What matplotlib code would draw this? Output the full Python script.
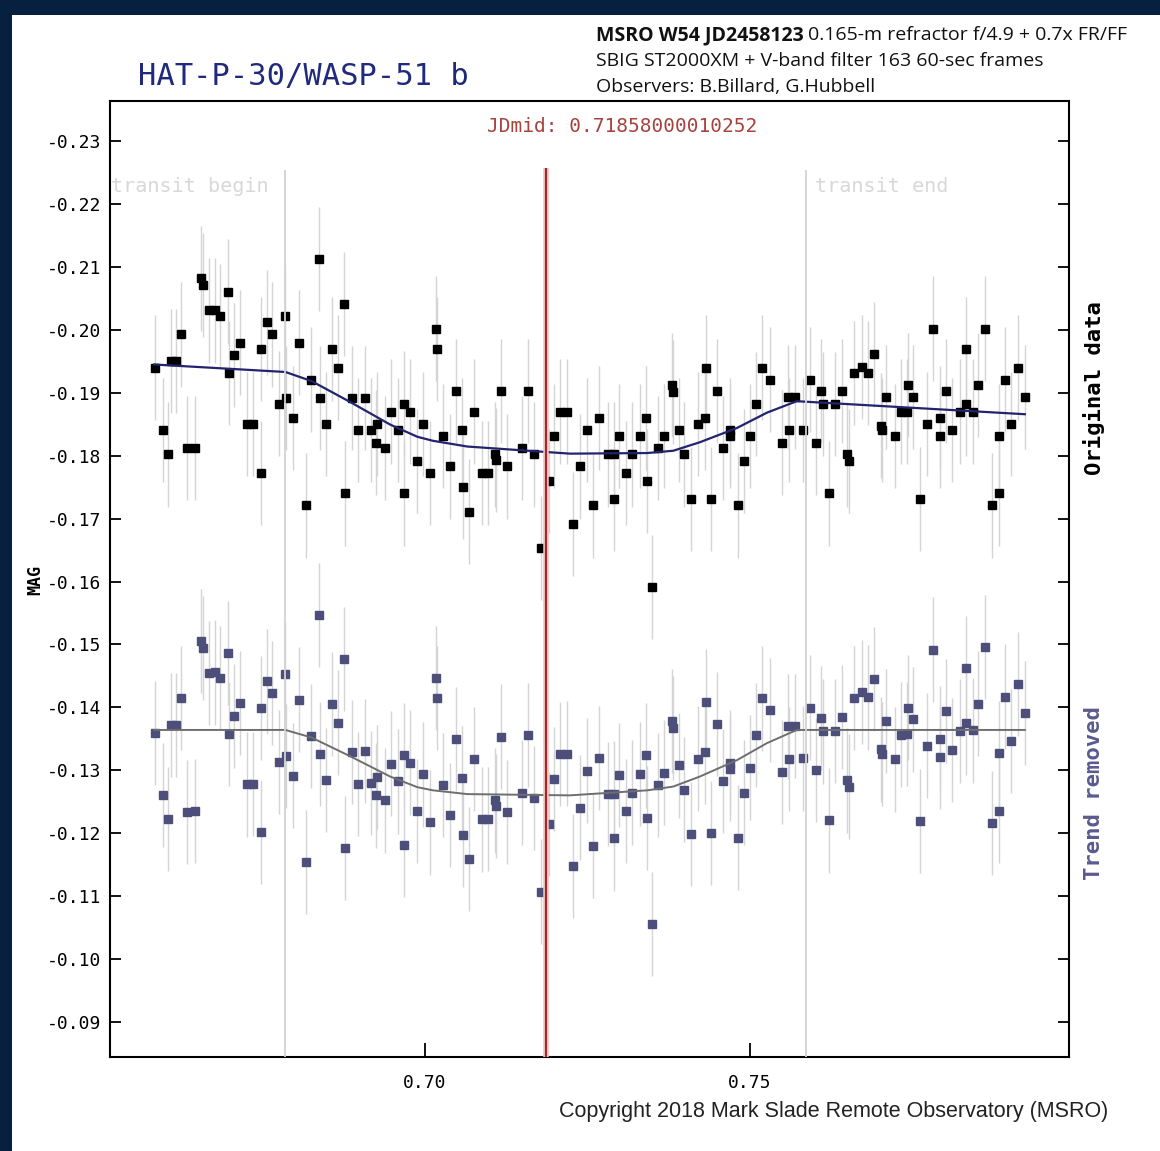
import numpy as np
import matplotlib.pyplot as plt
from matplotlib.patches import Rectangle

# ----- data -----
jd = [0.6584, 0.6596, 0.6605, 0.6609, 0.6617, 0.6624, 0.6634, 0.6646, 0.6655, 0.6658,
      0.6667, 0.6677, 0.6685, 0.6696, 0.6698, 0.6706, 0.6715, 0.6726, 0.6735, 0.6747,
      0.6748, 0.6756, 0.6765, 0.6775, 0.6785, 0.6786, 0.6796, 0.6806, 0.6816, 0.6825,
      0.6837, 0.6838, 0.6847, 0.6856, 0.6866, 0.6875, 0.6876, 0.6888, 0.6897, 0.6907,
      0.6916, 0.6924, 0.6926, 0.6938, 0.6948, 0.6958, 0.6967, 0.6968, 0.6976, 0.6988,
      0.6997, 0.7007, 0.7017, 0.7018, 0.7027, 0.7038, 0.7048, 0.7057, 0.7058, 0.7067,
      0.7076, 0.7087, 0.7097, 0.7108, 0.7109, 0.7117, 0.7126, 0.7149, 0.7158, 0.7167,
      0.7178, 0.7190, 0.7198, 0.7208, 0.7218, 0.7228, 0.7238, 0.7249, 0.7258, 0.7267,
      0.7281, 0.7290, 0.7291, 0.7299, 0.7309, 0.7318, 0.7330, 0.7340, 0.7341, 0.7349,
      0.7359, 0.7368, 0.7380, 0.7381, 0.7390, 0.7399, 0.7409, 0.7420, 0.7431, 0.7432,
      0.7440, 0.7450, 0.7459, 0.7469, 0.7470, 0.7481, 0.7491, 0.7500, 0.7510, 0.7519,
      0.7531, 0.7550, 0.7559, 0.7560, 0.7570, 0.7581, 0.7592, 0.7601, 0.7610, 0.7613,
      0.7622, 0.7631, 0.7641, 0.7650, 0.7652, 0.7660, 0.7672, 0.7682, 0.7691, 0.7702,
      0.7703, 0.7710, 0.7723, 0.7732, 0.7742, 0.7743, 0.7751, 0.7761, 0.7773, 0.7782,
      0.7792, 0.7793, 0.7801, 0.7811, 0.7823, 0.7832, 0.7833, 0.7843, 0.7851, 0.7861,
      0.7873, 0.7883, 0.7884, 0.7892, 0.7902, 0.7912, 0.7923]

mag_orig = [-0.1940, -0.1841, -0.1802, -0.1951, -0.1951, -0.1993, -0.1812, -0.1812, -0.2082, -0.2071,
            -0.2031, -0.2031, -0.2022, -0.2061, -0.1932, -0.1960, -0.1980, -0.1850, -0.1850, -0.1970,
            -0.1773, -0.2012, -0.1993, -0.1883, -0.2022, -0.1892, -0.1860, -0.1980, -0.1721, -0.1921,
            -0.2113, -0.1892, -0.1850, -0.1970, -0.1940, -0.2041, -0.1740, -0.1892, -0.1841, -0.1892,
            -0.1841, -0.1821, -0.1850, -0.1812, -0.1870, -0.1841, -0.1883, -0.1740, -0.1870, -0.1792,
            -0.1850, -0.1773, -0.2002, -0.1970, -0.1831, -0.1783, -0.1903, -0.1841, -0.1750, -0.1711,
            -0.1870, -0.1773, -0.1773, -0.1802, -0.1793, -0.1903, -0.1783, -0.1812, -0.1903, -0.1802,
            -0.1653, -0.1760, -0.1831, -0.1870, -0.1870, -0.1691, -0.1783, -0.1841, -0.1721, -0.1860,
            -0.1802, -0.1802, -0.1731, -0.1831, -0.1773, -0.1802, -0.1831, -0.1860, -0.1760, -0.1591,
            -0.1812, -0.1831, -0.1912, -0.1901, -0.1841, -0.1802, -0.1731, -0.1850, -0.1860, -0.1940,
            -0.1731, -0.1903, -0.1812, -0.1841, -0.1831, -0.1721, -0.1792, -0.1831, -0.1882, -0.1940,
            -0.1921, -0.1821, -0.1893, -0.1841, -0.1893, -0.1841, -0.1921, -0.1821, -0.1903, -0.1882,
            -0.1740, -0.1882, -0.1903, -0.1802, -0.1792, -0.1932, -0.1941, -0.1932, -0.1961, -0.1848,
            -0.1841, -0.1893, -0.1831, -0.1870, -0.1870, -0.1912, -0.1893, -0.1731, -0.1850, -0.2002,
            -0.1860, -0.1831, -0.1903, -0.1841, -0.1870, -0.1970, -0.1882, -0.1870, -0.1912, -0.2002,
            -0.1721, -0.1740, -0.1831, -0.1921, -0.1850, -0.1940, -0.1893]

mag_err = 0.0083

# linear trend that separates the two curves (offset at trend_jd0 and slope)
trend_jd0 = 0.6584
trend_a = 0.0581
trend_b = -0.059

# fitted transit model in the trend-removed frame
model_jd = [0.6583, 0.6785, 0.6825, 0.6885, 0.6946, 0.6988, 0.7012, 0.7065, 0.7223,
            0.7342, 0.7382, 0.7423, 0.7480, 0.7526, 0.7572, 0.7586, 0.7923]
model_detr = [-0.1364, -0.1364, -0.1352, -0.1322, -0.1290, -0.1273, -0.1268, -0.1262, -0.1260,
              -0.1268, -0.1274, -0.1290, -0.1316, -0.1343, -0.1364, -0.1364, -0.1364]

jd_mid = 0.71858000010252
transit_begin = 0.6785
transit_end = 0.7586

yticks = [-0.23, -0.22, -0.21, -0.20, -0.19, -0.18, -0.17, -0.16,
          -0.15, -0.14, -0.13, -0.12, -0.11, -0.10, -0.09]
xticks = [0.70, 0.75]

# ----- derived curves -----
jd_a = np.array(jd)
offset = trend_a + trend_b * (jd_a - trend_jd0)
mag_detr = np.array(mag_orig) + offset
mjd = np.array(model_jd)
model_orig = np.array(model_detr) - (trend_a + trend_b * (mjd - trend_jd0))

# ----- figure -----
W, H = 1160, 1151
fig = plt.figure(figsize=(W / 100, H / 100), dpi=100, facecolor='#07203f')
panel = Rectangle((12 / W, 0), 1, 1 - 15 / H, transform=fig.transFigure,
                  facecolor='white', edgecolor='none', zorder=-10)
fig.add_artist(panel)

ax = fig.add_axes([110 / W, 1 - 1057 / H, (1069 - 110) / W, (1057 - 101) / H])
ax.set_xlim(0.6515, 0.7991)
ax.set_ylim(-0.0844, -0.2364)

mono = 'DejaVu Sans Mono'

ax.errorbar(jd, mag_orig, yerr=mag_err, fmt='s', ms=5.8, mfc='black', mec='black',
            ecolor='#d4d4d4', elinewidth=1, capsize=0, zorder=3)
ax.errorbar(jd, mag_detr, yerr=mag_err, fmt='s', ms=5.8, mfc='#4e4e7a', mec='#4e4e7a',
            ecolor='#d4d4d4', elinewidth=1, capsize=0, zorder=3)
ax.plot(model_jd, model_orig, color='#23236e', lw=1.6, zorder=4)
ax.plot(model_jd, model_detr, color='#6e6e6e', lw=1.4, zorder=4)

# transit markers
ax.vlines([transit_begin, transit_end], -0.2255, -0.0844, colors='#d2d2d2', lw=1.3, zorder=6)
ax.vlines(jd_mid, -0.2258, -0.0844, colors='#f3c0c0', lw=4, zorder=6)
ax.vlines(jd_mid, -0.2258, -0.0844, colors='#9c2c28', lw=1.5, zorder=7)

ax.text(transit_begin - 0.0026, -0.2228, 'transit begin', ha='right', va='center',
        family=mono, size=14.5, color='#d8d8d8')
ax.text(transit_end + 0.0014, -0.2228, 'transit end', ha='left', va='center',
        family=mono, size=14.5, color='#d8d8d8')

ax.set_xticks(xticks)
ax.set_xticklabels([f'{v:.2f}' for v in xticks])
ax.set_yticks(yticks)
ax.set_yticklabels([f'{v:.2f}' for v in yticks])
ax.tick_params(axis='y', direction='in', length=8, width=1.3, right=True, labelright=False,
               labelsize=13, pad=6)
ax.tick_params(axis='x', direction='in', length=10, width=1.3, labelsize=13, pad=12)
for lab in ax.get_xticklabels() + ax.get_yticklabels():
    lab.set_family(mono)
for s in ax.spines.values():
    s.set_linewidth(1.5)

# ----- texts -----
fig.text(138 / W, 1 - 77 / H, 'HAT-P-30/WASP-51 b', family=mono, size=22,
         color='#1f2a7c', ha='left', va='center')
fig.text(622 / W, 1 - 126 / H, 'JDmid: 0.71858000010252', family=mono, size=14,
         color='#a8423d', ha='center', va='center')
fig.text(1094 / W, 1 - 388 / H, 'Original data', family=mono, weight='bold', size=16,
         rotation=90, ha='center', va='center', color='black')
fig.text(1094 / W, 1 - 793 / H, 'Trend removed', family=mono, weight='bold', size=16,
         rotation=90, ha='center', va='center', color='#5a5a8e')
fig.text(35 / W, 1 - 580 / H, 'MAG', family=mono, weight='bold', size=12,
         rotation=90, ha='center', va='center')

sans = ['Open Sans', 'DejaVu Sans']
tsize = 14
t1 = fig.text(596 / W, 1 - 35 / H, 'MSRO W54 JD2458123', family=sans, weight='bold',
              size=tsize, ha='left', va='center', color='#111')
fig.canvas.draw()
bb = t1.get_window_extent()
fig.text(bb.x1 / W + 4 / W, 1 - 35 / H, '0.165-m refractor f/4.9 + 0.7x FR/FF', family=sans,
         size=tsize, ha='left', va='center', color='#111')
fig.text(596 / W, 1 - 61 / H, 'SBIG ST2000XM + V-band filter 163 60-sec frames', family=sans,
         size=tsize, ha='left', va='center', color='#111')
fig.text(596 / W, 1 - 87 / H, 'Observers: B.Billard, G.Hubbell', family=sans,
         size=tsize, ha='left', va='center', color='#111')
fig.text(1108 / W, 1 - 1112 / H, 'Copyright 2018 Mark Slade Remote Observatory (MSRO)',
         family=['Liberation Sans', 'DejaVu Sans'], size=15.5, ha='right', va='center',
         color='#222')

fig.savefig('out.png', dpi=100, facecolor=fig.get_facecolor())
